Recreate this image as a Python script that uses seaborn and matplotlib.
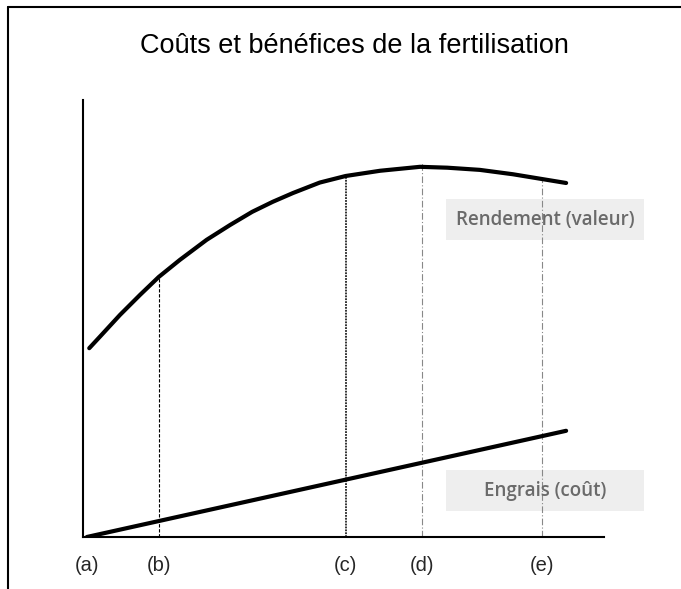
import matplotlib
matplotlib.use("Agg")
import matplotlib.pyplot as plt
from matplotlib.lines import Line2D
from matplotlib.patches import Rectangle
import pandas as pd
import seaborn as sns

# Values (dose of fertiliser, arbitrary units)
yield_dose = [0.05, 0.27, 0.69, 1.11, 1.5, 1.94, 2.5, 2.99, 3.45, 3.88,
              4.3, 4.86, 5.4, 6.12, 6.95, 7.52, 8.2, 8.89, 9.5, 10.0]
yield_value = [43.2, 45.8, 50.8, 55.4, 59.5, 63.4, 68.0, 71.4, 74.4, 76.7,
               78.7, 81.1, 82.6, 83.8, 84.7, 84.5, 84.0, 83.0, 81.9, 81.0]

cost_dose = [0.0, 10.0]
cost_value = [0.0, 24.3]

tick_pos = [0.0, 1.5, 5.4, 7.0, 9.5]
tick_labels = ["(a)", "(b)", "(c)", "(d)", "(e)"]

# vertical guide lines at (b) .. (e), up to the yield curve
guide_x = [1.5, 5.4, 7.0, 9.5]
guide_top = [59.5, 82.6, 85.5, 82.0]

title = "Coûts et bénéfices de la fertilisation"
label_yield = "Rendement (valeur)"
label_cost = "Engrais (coût)"

sns.set_style("white")
plt.rcParams["font.family"] = ["Liberation Sans", "DejaVu Sans"]

fig = plt.figure(figsize=(6.81, 5.89), dpi=100)
ax = fig.add_axes([0.1219, 0.0883, 0.765, 0.742])

df_yield = pd.DataFrame({"dose": yield_dose, "value": yield_value})
df_cost = pd.DataFrame({"dose": cost_dose, "value": cost_value})

sns.lineplot(data=df_yield, x="dose", y="value", ax=ax, color="black",
             linewidth=3, zorder=3, solid_joinstyle="round")
sns.lineplot(data=df_cost, x="dose", y="value", ax=ax, color="black",
             linewidth=3, zorder=3)

# guide lines, each with its own look
guide_styles = [
    dict(color="black", linestyle=(0, (3, 1.5)), linewidth=0.8),
    dict(color="#222222", linestyle=(0, (1, 0.6)), linewidth=1.3),
    dict(color="#888888", linestyle=(0, (6, 2, 1, 2)), linewidth=0.8),
    dict(color="#888888", linestyle=(0, (6, 2, 1, 2)), linewidth=0.8),
]
for gx, gt, st in zip(guide_x, guide_top, guide_styles):
    ax.vlines(gx, 0, gt, zorder=2, **st)

ax.set_xlim(-0.08, 10.79)
ax.set_ylim(0, 100)
ax.set_xlabel("")
ax.set_ylabel("")
ax.set_yticks([])
ax.set_xticks(tick_pos)
ax.set_xticklabels(tick_labels, fontsize=14.5)
ax.tick_params(axis="x", length=0, pad=14)

for side in ["top", "right"]:
    ax.spines[side].set_visible(False)
for side in ["left", "bottom"]:
    ax.spines[side].set_color("black")
    ax.spines[side].set_linewidth(1.5)

# grey label boxes
for y0, txt in [(0.5925, label_yield), (0.1324, label_cost)]:
    ax.add_patch(Rectangle((0.655, y0), 0.2907, 0.0696, transform=fig.transFigure,
                           facecolor="#eeeeee", edgecolor="none", zorder=1,
                           clip_on=False))
    fig.text(0.8003, y0 + 0.0348, txt, ha="center", va="center", fontsize=13.5,
             color="#6a6a6a", family=["Open Sans", "DejaVu Sans"],
             fontweight="semibold", zorder=1)

fig.text(0.52, 0.91, title, ha="center", va="baseline", fontsize=19.5,
         color="black")

# border on the top and left of the picture
fig.add_artist(Line2D([8 / 681, 8 / 681], [0, 1 - 7 / 589], color="black",
                      linewidth=1.5, transform=fig.transFigure))
fig.add_artist(Line2D([8 / 681, 1], [1 - 7 / 589, 1 - 7 / 589], color="black",
                      linewidth=1.5, transform=fig.transFigure))

fig.savefig("out.png", dpi=100)
